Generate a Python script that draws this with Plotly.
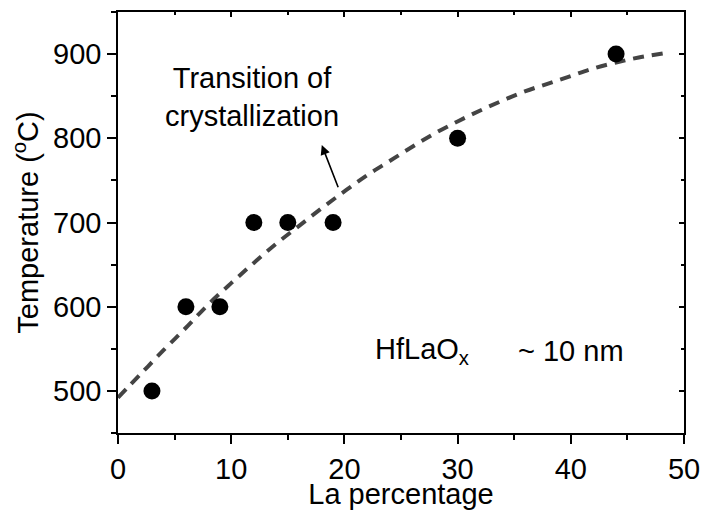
import plotly.graph_objects as go

# Measured crystallization temperatures
la_pct = [3, 6, 9, 12, 15, 19, 30, 44]
temp_c = [500, 600, 600, 700, 700, 700, 800, 900]

# Trend curve (dashed guide line) sampled along its path
trend_x = [0, 2, 4, 6, 8, 10, 12, 14, 16, 18, 20, 22, 24, 26, 28, 30, 32, 34, 36, 38, 40, 42, 44, 46, 48.2]
trend_y = [492, 520, 548, 575, 603, 628, 652, 675, 696, 717, 737, 756, 773, 790, 806, 820, 833, 845, 856, 865, 874, 883, 890, 896, 901]

x_range = [0, 50]
y_range = [450, 950]
x_ticks = [0, 10, 20, 30, 40, 50]
y_ticks = [500, 600, 700, 800, 900]

FONT = "Liberation Sans, Arial, sans-serif"
FS = 29

fig = go.Figure()

fig.add_trace(go.Scatter(
    x=trend_x, y=trend_y, mode="lines",
    line=dict(color="#444444", width=4, dash="11px,8px", shape="spline"),
    hoverinfo="skip", showlegend=False,
))

fig.add_trace(go.Scatter(
    x=la_pct, y=temp_c, mode="markers",
    marker=dict(color="black", size=17, line=dict(width=0)),
    showlegend=False,
))

# invisible trace to host the mirrored top/right axes
fig.add_trace(go.Scatter(
    x=[x_range[0]], y=[y_range[0]], xaxis="x2", yaxis="y2",
    mode="markers", marker=dict(opacity=0), hoverinfo="skip", showlegend=False,
))

axis_common = dict(
    automargin=False,
    showgrid=False, zeroline=False, showline=True, linecolor="black", linewidth=1.5,
    ticks="outside", tickcolor="black", tickwidth=1.5, ticklen=9,
    tickfont=dict(family=FONT, size=FS, color="black"),
)

mirror_common = dict(
    automargin=False,
    showgrid=False, zeroline=False, showline=True, linecolor="black", linewidth=1.5,
    ticks="inside", ticklen=5, tickwidth=1.5, tickcolor="black", showticklabels=False,
)

fig.update_layout(
    width=702, height=510,
    margin=dict(l=118, r=18, t=12, b=77),
    paper_bgcolor="white", plot_bgcolor="white",
    xaxis=dict(
        **axis_common, range=x_range, tickvals=x_ticks,
        minor=dict(ticks="outside", dtick=5, ticklen=5, tickwidth=1.5, tickcolor="black"),
        title=dict(text="La percentage", font=dict(family=FONT, size=FS, color="black"), standoff=3),
    ),
    yaxis=dict(
        **axis_common, range=y_range, tickvals=y_ticks,
        minor=dict(ticks="outside", dtick=50, tick0=450, ticklen=5, tickwidth=1.5, tickcolor="black"),
        title=dict(text="Temperature (<sup>o</sup>C)", font=dict(family=FONT, size=FS, color="black"), standoff=6),
    ),
    xaxis2=dict(
        **mirror_common, overlaying="x", side="top", anchor="y2", range=x_range, tickvals=x_ticks,
        minor=dict(ticks="inside", dtick=5, ticklen=3, tickwidth=1.5, tickcolor="black"),
    ),
    yaxis2=dict(
        **mirror_common, overlaying="y", side="right", anchor="x2", range=y_range, tickvals=y_ticks,
        minor=dict(ticks="inside", dtick=50, tick0=450, ticklen=3, tickwidth=1.5, tickcolor="black"),
    ),
    annotations=[
        dict(x=18.0, y=792, ax=19.5, ay=740, xref="x", yref="y", axref="x", ayref="y",
             text="", showarrow=True, arrowhead=2, arrowsize=1.2, arrowwidth=1.6, arrowcolor="black"),
        dict(x=11.8, y=849, xref="x", yref="y", showarrow=False,
             text="Transition of<br>crystallization", align="center",
             font=dict(family=FONT, size=FS, color="black")),
        dict(x=22.5, y=547, xref="x", yref="y", showarrow=False, xanchor="left",
             text="HfLaO<sub>x</sub>", font=dict(family=FONT, size=FS, color="black")),
        dict(x=35.2, y=547, xref="x", yref="y", showarrow=False, xanchor="left",
             text="~ 10 nm", font=dict(family=FONT, size=FS, color="black")),
    ],
)

fig.write_html("out.html")
